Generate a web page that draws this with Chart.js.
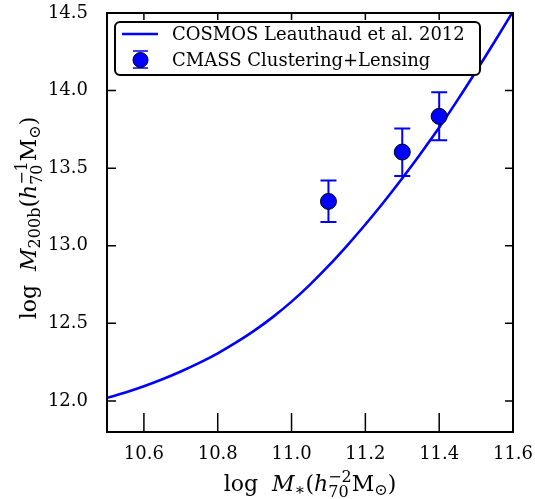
<!DOCTYPE html>
<html>
<head>
<meta charset="utf-8">
<script src="https://cdn.jsdelivr.net/npm/chart.js@4"></script>
<style>
  html, body { margin: 0; padding: 0; background: #fff; }
  #wrap { width: 535px; height: 499px; }
</style>
</head>
<body>
<div id="wrap"><canvas id="chart"></canvas></div>
<script>
// COSMOS relation
const curveX = [10.50, 10.55, 10.60, 10.65, 10.70, 10.75, 10.80, 10.85, 10.90, 10.95,
                11.00, 11.05, 11.10, 11.15, 11.20, 11.25, 11.30, 11.35, 11.40, 11.45,
                11.50, 11.55, 11.60];
const curveY = [12.02, 12.055, 12.095, 12.14, 12.19, 12.245, 12.307, 12.377, 12.455, 12.542,
                12.64, 12.75, 12.87, 13.00, 13.137, 13.282, 13.435, 13.595, 13.762, 13.94,
                14.125, 14.315, 14.51];

// CMASS points with asymmetric errors
const pointX = [11.1, 11.3, 11.4];
const pointY = [13.286, 13.604, 13.834];
const errLow = [0.133, 0.154, 0.154];
const errHigh = [0.134, 0.151, 0.156];

const xTicks = [10.6, 10.8, 11.0, 11.2, 11.4, 11.6];
const yTicks = [12.0, 12.5, 13.0, 13.5, 14.0, 14.5];

const lineLabel = "COSMOS Leauthaud et al. 2012";
const pointLabel = "CMASS Clustering+Lensing";

const serif = '"DejaVu Serif", serif';
const blue = "#0000ff";

// axis titles as runs of text (italic, sub/superscripts)
const xTitle = [
  { t: "log  " }, { t: "M", it: true }, { t: "∗", s: 0.72, dy: 0.2 },
  { t: "(" }, { t: "h", it: true }, { sup: "−2", sub: "70" },
  { t: "M" }, { t: "⊙", s: 0.72, dy: 0.2 }, { t: ")" }
];
const yTitle = [
  { t: "log  " }, { t: "M", it: true }, { t: "200b", s: 0.72, dy: 0.2 },
  { t: "(" }, { t: "h", it: true }, { sup: "−1", sub: "70" },
  { t: "M" }, { t: "⊙", s: 0.72, dy: 0.2 }, { t: ")" }
];

function runFont(r, size) {
  return (r.it ? "italic " : "") + Math.round(size * (r.s || 1)) + "px " + serif;
}

function runsWidth(ctx, runs, size) {
  let w = 0;
  runs.forEach((r) => {
    if (r.sup !== undefined) {
      ctx.font = runFont({}, size * 0.72);
      w += Math.max(ctx.measureText(r.sup).width, ctx.measureText(r.sub).width);
    } else {
      ctx.font = runFont(r, size);
      w += ctx.measureText(r.t).width;
    }
  });
  return w;
}

function drawRuns(ctx, runs, x, y, size) {
  ctx.textAlign = "left";
  ctx.textBaseline = "alphabetic";
  runs.forEach((r) => {
    if (r.sup !== undefined) {
      ctx.font = runFont({}, size * 0.72);
      ctx.fillText(r.sup, x, y - size * 0.42);
      ctx.fillText(r.sub, x, y + size * 0.28);
      x += Math.max(ctx.measureText(r.sup).width, ctx.measureText(r.sub).width);
    } else {
      ctx.font = runFont(r, size);
      ctx.fillText(r.t, x, y + (r.dy || 0) * size);
      x += ctx.measureText(r.t).width;
    }
  });
}

const extrasPlugin = {
  id: "extras",
  beforeDatasetsDraw(chart) {
    // error bars
    const ctx = chart.ctx;
    const xs = chart.scales.x, ys = chart.scales.y;
    ctx.save();
    ctx.strokeStyle = blue;
    ctx.lineWidth = 2;
    pointX.forEach((v, i) => {
      const px = xs.getPixelForValue(v);
      const top = ys.getPixelForValue(pointY[i] + errHigh[i]);
      const bot = ys.getPixelForValue(pointY[i] - errLow[i]);
      ctx.beginPath();
      ctx.moveTo(px, top); ctx.lineTo(px, bot);
      ctx.moveTo(px - 8, top); ctx.lineTo(px + 8, top);
      ctx.moveTo(px - 8, bot); ctx.lineTo(px + 8, bot);
      ctx.stroke();
    });
    ctx.restore();
  },
  afterDraw(chart) {
    const ctx = chart.ctx;
    const a = chart.chartArea;
    const xs = chart.scales.x, ys = chart.scales.y;
    ctx.save();
    // frame
    ctx.strokeStyle = "#000";
    ctx.lineWidth = 2;
    ctx.strokeRect(a.left, a.top, a.right - a.left, a.bottom - a.top);
    // inward ticks
    ctx.lineWidth = 1.5;
    ctx.beginPath();
    xTicks.forEach((v) => {
      const px = xs.getPixelForValue(v);
      ctx.moveTo(px, a.bottom); ctx.lineTo(px, a.bottom - 19);
      ctx.moveTo(px, a.top); ctx.lineTo(px, a.top + 7);
    });
    yTicks.forEach((v) => {
      const py = ys.getPixelForValue(v);
      ctx.moveTo(a.left, py); ctx.lineTo(a.left + 9, py);
      ctx.moveTo(a.right, py); ctx.lineTo(a.right - 8, py);
    });
    ctx.stroke();

    // legend
    const lx = 115, ly = 22, lw = 365, lh = 53, rad = 5;
    ctx.fillStyle = "#fff";
    ctx.strokeStyle = "#000";
    ctx.lineWidth = 2;
    ctx.beginPath();
    ctx.roundRect(lx, ly, lw, lh, rad);
    ctx.fill();
    ctx.stroke();
    const ds = chart.data.datasets;
    const lineDs = ds.find((d) => d.type === "line");
    const ptDs = ds.find((d) => d.type === "scatter");
    // line sample
    ctx.strokeStyle = blue;
    ctx.lineWidth = 2.5;
    ctx.beginPath();
    ctx.moveTo(122, 34); ctx.lineTo(158, 34);
    ctx.stroke();
    // errorbar marker sample
    ctx.lineWidth = 1.5;
    ctx.beginPath();
    ctx.moveTo(133, 51); ctx.lineTo(148, 51);
    ctx.moveTo(133, 68); ctx.lineTo(148, 68);
    ctx.stroke();
    ctx.beginPath();
    ctx.arc(140.5, 60, 7.5, 0, Math.PI * 2);
    ctx.fillStyle = blue;
    ctx.fill();
    ctx.strokeStyle = "#000";
    ctx.lineWidth = 1;
    ctx.stroke();
    ctx.fillStyle = "#000";
    ctx.font = "18px " + serif;
    ctx.textAlign = "left";
    ctx.textBaseline = "middle";
    ctx.fillText(lineDs.label, 172, 35);
    ctx.fillText(ptDs.label, 172, 61);

    // axis titles
    const size = 22;
    const xw = runsWidth(ctx, xTitle, size);
    drawRuns(ctx, xTitle, (a.left + a.right) / 2 - xw / 2, 491, size);
    const yw = runsWidth(ctx, yTitle, size);
    ctx.translate(36, 218);
    ctx.rotate(-Math.PI / 2);
    drawRuns(ctx, yTitle, -yw / 2, 0, size);
    ctx.restore();
  }
};

const ctx = document.getElementById("chart").getContext("2d");
new Chart(ctx, {
  data: {
    datasets: [
      {
        type: "scatter",
        label: pointLabel,
        data: pointX.map((x, i) => ({ x: x, y: pointY[i] })),
        pointRadius: 8,
        pointHoverRadius: 8,
        backgroundColor: blue,
        borderColor: "#000",
        borderWidth: 1,
        order: 0,
      },
      {
        type: "line",
        label: lineLabel,
        data: curveX.map((x, i) => ({ x: x, y: curveY[i] })),
        borderColor: blue,
        borderWidth: 2.6,
        pointRadius: 0,
        tension: 0.4,
        fill: false,
        order: 1,
      },
    ],
  },
  options: {
    responsive: true,
    maintainAspectRatio: false,
    animation: false,
    layout: { padding: { left: 0, top: 13, right: 22, bottom: 0 } },
    plugins: { legend: { display: false }, tooltip: { enabled: false } },
    scales: {
      x: {
        type: "linear",
        min: 10.5,
        max: 11.6,
        afterBuildTicks: (scale) => { scale.ticks = xTicks.map((v) => ({ value: v })); },
        afterFit: (scale) => {
          scale.height = 67;
          scale.paddingLeft = 0;
          scale.paddingRight = 0;
        },
        grid: { display: false, drawTicks: false },
        border: { display: false },
        ticks: {
          color: "#000",
          font: { family: serif, size: 18 },
          padding: 12,
          maxRotation: 0,
          autoSkip: false,
          callback: (v) => Number(v).toFixed(1),
        },
      },
      y: {
        type: "linear",
        min: 11.8,
        max: 14.5,
        afterBuildTicks: (scale) => { scale.ticks = yTicks.map((v) => ({ value: v })); },
        afterFit: (scale) => {
          scale.width = 107;
          scale.paddingTop = 0;
          scale.paddingBottom = 0;
        },
        grid: { display: false, drawTicks: false },
        border: { display: false },
        ticks: {
          color: "#000",
          font: { family: serif, size: 18 },
          padding: 19,
          autoSkip: false,
          callback: (v) => Number(v).toFixed(1),
        },
      },
    },
  },
  plugins: [extrasPlugin],
});
</script>
</body>
</html>
